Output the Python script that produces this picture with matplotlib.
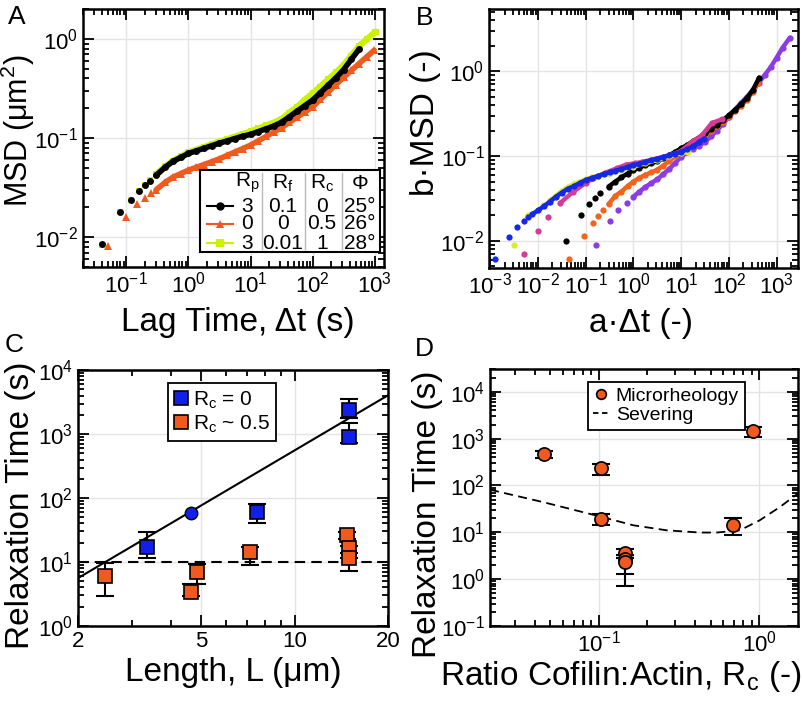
import matplotlib
matplotlib.use("Agg")
import matplotlib.pyplot as plt
from matplotlib.lines import Line2D
from matplotlib.patches import Rectangle
from matplotlib.ticker import LogLocator, NullFormatter, FixedLocator, FixedFormatter

plt.rcParams['font.family'] = ['Liberation Sans', 'DejaVu Sans']
plt.rcParams['mathtext.fontset'] = 'custom'
plt.rcParams['mathtext.rm'] = 'Liberation Sans'
plt.rcParams['mathtext.it'] = 'Liberation Sans:italic'
plt.rcParams['mathtext.bf'] = 'Liberation Sans:bold'

# ---------------- panel A : MSD vs lag time ----------------
a_blk_t = [0.04, 0.08, 0.12, 0.16, 0.20, 0.24, 0.3, 0.42, 0.56, 0.75, 1, 1.33, 1.78, 2.37, 3.16, 4.2,
           5.6, 7.5, 10, 13.3, 17.8, 23.7, 31.6, 42, 56, 75, 100, 133, 178, 237, 316, 420, 560]
a_blk_msd = [0.0086, 0.018, 0.024, 0.029, 0.034, 0.037, 0.042, 0.0507, 0.0581, 0.0638, 0.070, 0.0743,
             0.079, 0.0839, 0.0889, 0.0938, 0.0991, 0.1047, 0.109, 0.1163, 0.1242, 0.1324, 0.1444, 0.164,
             0.1867, 0.213, 0.242, 0.287, 0.342, 0.406, 0.491, 0.624, 0.79]
a_org_t = [0.05, 0.1, 0.15, 0.2, 0.25, 0.3, 0.42, 0.56, 0.75, 1, 1.33, 1.78, 2.37, 3.16, 4.2, 5.6, 7.5,
           10, 13.3, 17.8, 23.7, 31.6, 42, 56, 75, 100, 133, 178, 237, 316, 420, 560, 750, 980]
a_org_msd = [0.0082, 0.016, 0.0216, 0.0251, 0.028, 0.030, 0.0357, 0.0403, 0.0438, 0.0475, 0.0507, 0.0541,
             0.0578, 0.0619, 0.0669, 0.0725, 0.0785, 0.085, 0.0939, 0.104, 0.115, 0.1277, 0.1439, 0.162,
             0.1835, 0.207, 0.246, 0.2925, 0.347, 0.411, 0.482, 0.565, 0.664, 0.77]
a_grn_t = [0.04, 0.08, 0.12, 0.16, 0.20, 0.24, 0.3, 0.42, 0.56, 0.75, 1, 1.33, 1.78, 2.37, 3.16, 4.2,
           5.6, 7.5, 10, 13.3, 17.8, 23.7, 31.6, 42, 56, 75, 100, 133, 178, 237, 316, 420, 560, 750, 1000, 1040]
a_grn_msd = [0.0084, 0.0178, 0.024, 0.029, 0.034, 0.038, 0.043, 0.0518, 0.0592, 0.0653, 0.072, 0.0765,
             0.0814, 0.0866, 0.092, 0.0976, 0.1036, 0.1102, 0.117, 0.1252, 0.1342, 0.1437, 0.156, 0.181,
             0.206, 0.244, 0.283, 0.332, 0.391, 0.46, 0.547, 0.681, 0.85, 0.997, 1.166, 1.19]
a_header = ["R$_\\mathregular{p}$", "R$_\\mathregular{f}$", "R$_\\mathregular{c}$", "Φ"]
a_rows = [["3", "0.1", "0", "25°"], ["0", "0", "0.5", "26°"], ["3", "0.01", "1", "28°"]]

# ---------------- panel B : rescaled MSD ----------------
b_purple_x = [0.165, 0.32, 0.48, 0.72, 1, 1.33, 1.78, 2.37, 3.16, 4.2, 5.6, 7.5, 10, 13.3, 17.8, 23.7,
              31.6, 42, 56, 75, 100, 133, 178, 237, 316, 420, 560, 750, 1000, 1330, 1890]
b_purple_y = [0.0088, 0.0169, 0.0228, 0.028, 0.033, 0.038, 0.043, 0.048, 0.053, 0.061, 0.07, 0.083, 0.098,
              0.11, 0.122, 0.133, 0.147, 0.17, 0.2, 0.24, 0.29, 0.35, 0.42, 0.5, 0.6, 0.73, 0.9, 1.12,
              1.45, 1.9, 2.49]
b_orange_x = [0.0454, 0.094, 0.14, 0.185, 0.235, 0.3, 0.42, 0.56, 0.75, 1, 1.33, 1.78, 2.37, 3.16, 4.2,
              5.6, 7.5, 10, 13.3, 17.8, 23.7, 31.6, 42, 56, 75, 100, 133, 178, 237, 316, 410]
b_orange_y = [0.0061, 0.0115, 0.016, 0.0197, 0.023, 0.027, 0.034, 0.038, 0.044, 0.05, 0.055, 0.06, 0.064,
              0.069, 0.077, 0.087, 0.1, 0.112, 0.125, 0.14, 0.155, 0.175, 0.2, 0.225, 0.255, 0.29, 0.34,
              0.39, 0.46, 0.57, 0.72]
b_black_x = [0.039, 0.078, 0.116, 0.16, 0.2, 0.3, 0.42, 0.56, 0.75, 1, 1.33, 1.78, 2.37, 3.16, 4.2, 5.6,
             7.5, 10, 13.3, 17.8, 23.7, 31.6, 42, 56, 75, 100, 133, 178, 237, 316, 430]
b_black_y = [0.0098, 0.0199, 0.0272, 0.032, 0.037, 0.0435, 0.05, 0.056, 0.062, 0.068, 0.073, 0.078, 0.082,
             0.087, 0.094, 0.102, 0.112, 0.123, 0.135, 0.15, 0.165, 0.185, 0.21, 0.235, 0.265, 0.303,
             0.35, 0.41, 0.48, 0.6, 0.84]
b_magenta_x = [0.005, 0.01, 0.0165, 0.029, 0.055, 0.1, 0.145, 0.25, 0.45, 0.7, 1.07, 1.5, 3, 6, 10, 17.6,
               27, 44, 70]
b_magenta_y = [0.007, 0.0131, 0.0193, 0.0278, 0.038, 0.048, 0.0547, 0.063, 0.0717, 0.079, 0.082, 0.085,
               0.093, 0.103, 0.115, 0.15, 0.175, 0.245, 0.27]
b_lime_x = [0.0032, 0.0063, 0.013, 0.0178, 0.0237, 0.0316, 0.042, 0.056, 0.075, 0.1, 0.133, 0.178, 0.3,
            0.56, 1, 1.78, 3.16, 5.6, 10, 14]
b_lime_y = [0.0088, 0.0202, 0.0265, 0.030, 0.034, 0.039, 0.043, 0.047, 0.05, 0.053, 0.056, 0.058, 0.062,
            0.068, 0.075, 0.082, 0.09, 0.099, 0.108, 0.112]
b_blue_x = [0.00123, 0.00246, 0.0036, 0.005, 0.0063, 0.0075, 0.01, 0.0133, 0.0178, 0.0237, 0.0316, 0.042,
            0.056, 0.075, 0.1, 0.133, 0.178, 0.237, 0.316, 0.42, 0.56, 0.75, 1, 1.33, 1.78, 2.37, 3.16,
            4.2, 5.6, 7.5, 10, 13.3, 17.8, 23.7, 30]
b_blue_y = [0.0061, 0.011, 0.0144, 0.0169, 0.019, 0.0205, 0.0228, 0.0255, 0.029, 0.033, 0.037, 0.041,
            0.044, 0.048, 0.052, 0.055, 0.058, 0.061, 0.064, 0.067, 0.07, 0.074, 0.078, 0.081, 0.085,
            0.089, 0.093, 0.097, 0.102, 0.107, 0.112, 0.12, 0.13, 0.145, 0.16]

# ---------------- panel C : relaxation time vs length ----------------
c_blue_L = [3.33, 7.54, 15.0, 15.0]
c_blue_tau = [17.3, 61, 2430, 908]
c_blue_lo = [11.5, 41, 1800, 716]
c_blue_hi = [29, 80.5, 3600, 1500]
c_circ_L = [4.63]
c_circ_tau = [59]
c_org_L = [2.44, 4.63, 4.86, 7.18, 14.7, 15.0, 15.0]
c_org_tau = [6.0, 3.4, 6.9, 14.5, 26.4, 16.4, 11.7]
c_org_lo = [2.9, 2.9, 4.5, 8.8, 22.6, 11.7, 7.1]
c_org_hi = [9.5, 4.5, 9.3, 17.3, 29.8, 17.8, 14.0]
c_fit_L = [2, 20]
c_fit_tau = [5.56, 4070]
c_ref_tau = 10

# ---------------- panel D : relaxation time vs cofilin ratio ----------------
d_rc = [0.0453, 0.103, 0.103, 0.146, 0.146, 0.146, 0.69, 0.913]
d_tau = [472, 234, 18.9, 3.6, 2.7, 2.3, 14.6, 1480]
d_lo = [388, 171, 14.1, 2.8, 1.3, 0.7, 8.6, 1100]
d_hi = [555, 290, 24, 4.3, 3.3, 2.8, 20, 1740]
d_sev_rc = [0.021, 0.045, 0.101, 0.164, 0.265, 0.428, 0.544, 0.76, 1.01, 1.35, 1.74]
d_sev_tau = [81, 44, 21.9, 14.1, 11, 9.85, 9.85, 11, 18, 34.6, 66.5]

ORANGE = '#f05a1e'
BLUE = '#1020e8'
LIME = '#ccf200'

fig = plt.figure(figsize=(8.02, 7.12), dpi=100)
axA = fig.add_axes([0.1035, 0.625, 0.375, 0.362])
axB = fig.add_axes([0.610, 0.624, 0.385, 0.363])
axC = fig.add_axes([0.097, 0.121, 0.387, 0.359])
axD = fig.add_axes([0.611, 0.121, 0.384, 0.361])


def style(ax):
    ax.set_xscale('log')
    ax.set_yscale('log')
    ax.tick_params(which='both', direction='in', top=True, right=True, labelsize=16, width=1.3)
    ax.tick_params(which='major', length=8)
    ax.tick_params(which='minor', length=4)
    for s in ax.spines.values():
        s.set_linewidth(1.8)
    ax.grid(True, which='major', color='#e4e4e4', lw=1)
    ax.set_axisbelow(True)
    ax.xaxis.set_major_locator(LogLocator(base=10, numticks=15))
    ax.yaxis.set_major_locator(LogLocator(base=10, numticks=15))
    ax.xaxis.set_minor_locator(LogLocator(base=10, subs=range(2, 10), numticks=15))
    ax.yaxis.set_minor_locator(LogLocator(base=10, subs=range(2, 10), numticks=15))
    ax.xaxis.set_minor_formatter(NullFormatter())
    ax.yaxis.set_minor_formatter(NullFormatter())


def dotted_band(ax, xs, ys, start, color, marker, ms, lw):
    # isolated early frames as dots, dense later frames as a solid band
    ax.plot(xs, ys, ls='none', marker=marker, ms=ms, mew=0, color=color)
    ax.plot(xs[start:], ys[start:], ls='-', lw=lw, color=color, solid_capstyle='round')


for ax in (axA, axB, axC, axD):
    style(ax)

# ---- A
dotted_band(axA, a_org_t, a_org_msd, 5, ORANGE, '^', 5.5, 4)
dotted_band(axA, a_grn_t, a_grn_msd, 6, LIME, 's', 5, 4.5)
dotted_band(axA, a_blk_t, a_blk_msd, 6, 'black', 'o', 5, 4)
axA.set_xlim(0.02, 1400)
axA.set_ylim(0.005, 2.0)
axA.set_xlabel('Lag Time, Δt (s)', fontsize=24)
axA.set_ylabel('MSD (μm$^2$)', fontsize=22)
axA.xaxis.set_label_coords(0.515, -0.155)
axA.yaxis.set_label_coords(-0.152, 0.53)

# table-style legend
tr = axA.transAxes
axA.add_patch(Rectangle((0.389, 0.058), 0.598, 0.318, transform=tr, facecolor='white',
                        edgecolor='black', lw=1.5, zorder=5))
for xd in (0.595, 0.738, 0.860):
    axA.plot([xd, xd], [0.068, 0.366], transform=tr, color='#bbbbbb', lw=1, zorder=6)
col_x = [0.545, 0.664, 0.794, 0.920]
row_y = [0.236, 0.167, 0.093]
for cx, h in zip(col_x, a_header):
    axA.text(cx, 0.325, h, transform=tr, ha='center', va='center', fontsize=15, zorder=7)
handles = [('o', 'black'), ('^', ORANGE), ('s', LIME)]
for ry, row, (mk, col) in zip(row_y, a_rows, handles):
    axA.plot([0.412, 0.498], [ry, ry], transform=tr, color=col, lw=1.5, zorder=7)
    axA.plot([0.455], [ry], transform=tr, marker=mk, ms=6, color=col, mew=0, zorder=8)
    for cx, val in zip(col_x, row):
        axA.text(cx, ry, val, transform=tr, ha='center', va='center', fontsize=15, zorder=7)

# ---- B
for xs, ys, col, k in [(b_purple_x, b_purple_y, '#8c3ce6', 4), (b_orange_x, b_orange_y, '#f0641e', 5),
                       (b_black_x, b_black_y, 'black', 5), (b_magenta_x, b_magenta_y, '#d23c96', 3),
                       (b_lime_x, b_lime_y, '#d4f028', 3), (b_blue_x, b_blue_y, '#1428e6', 5)]:
    dotted_band(axB, xs, ys, k, col, 'o', 4.5, 3.2)
axB.set_xlim(0.00095, 2800)
axB.set_ylim(0.0048, 5.4)
axB.set_xlabel('a·Δt (-)', fontsize=24)
axB.set_ylabel('b·MSD (-)', fontsize=24)
axB.xaxis.set_label_coords(0.49, -0.155)
axB.yaxis.set_label_coords(-0.155, 0.56)

# ---- C
ek = dict(ls='none', ecolor='black', elinewidth=1.5, capsize=6.5, capthick=1.5, zorder=3)
axC.plot(c_fit_L, c_fit_tau, color='black', lw=1.5, zorder=2)
axC.axhline(c_ref_tau, color='black', lw=1.5, ls=(0, (5, 3)), zorder=2)
axC.errorbar(c_blue_L, c_blue_tau,
             yerr=[[t - l for t, l in zip(c_blue_tau, c_blue_lo)],
                   [h - t for t, h in zip(c_blue_tau, c_blue_hi)]], **ek)
axC.errorbar(c_org_L, c_org_tau,
             yerr=[[t - l for t, l in zip(c_org_tau, c_org_lo)],
                   [h - t for t, h in zip(c_org_tau, c_org_hi)]], **ek)
axC.plot(c_blue_L, c_blue_tau, ls='none', marker='s', ms=9.5, mfc=BLUE, mec='black', mew=1.2, zorder=4)
axC.plot(c_circ_L, c_circ_tau, ls='none', marker='o', ms=9, mfc=BLUE, mec='black', mew=1.0, zorder=4)
axC.plot(c_org_L, c_org_tau, ls='none', marker='s', ms=9.5, mfc=ORANGE, mec='black', mew=1.2, zorder=4)
axC.set_xlim(2, 20)
axC.set_ylim(1, 1e4)
axC.xaxis.set_major_locator(FixedLocator([2, 5, 10, 20]))
axC.xaxis.set_major_formatter(FixedFormatter(['2', '5', '10', '20']))
axC.set_xlabel('Length, L (μm)', fontsize=24)
axC.set_ylabel('Relaxation Time (s)', fontsize=24)
axC.xaxis.set_label_coords(0.5, -0.12)
axC.yaxis.set_label_coords(-0.135, 0.473)
legC = [Line2D([], [], ls='none', marker='s', ms=9.5, mfc=BLUE, mec='black', mew=1.2),
        Line2D([], [], ls='none', marker='s', ms=9.5, mfc=ORANGE, mec='black', mew=1.2)]
lg = axC.legend(legC, ['R$_\\mathregular{c}$ = 0', 'R$_\\mathregular{c}$ ~ 0.5'], loc='upper left',
                bbox_to_anchor=(0.29, 0.95), fontsize=15, frameon=True, fancybox=False,
                edgecolor='black', framealpha=1, handlelength=0.7, handletextpad=0.2,
                borderpad=0.3, labelspacing=0.15, borderaxespad=0)
lg.get_frame().set_linewidth(1.3)

# ---- D
axD.plot(d_sev_rc, d_sev_tau, color='black', lw=1.3, ls=(0, (5, 3)), zorder=2)
axD.errorbar(d_rc, d_tau,
             yerr=[[t - l for t, l in zip(d_tau, d_lo)], [h - t for t, h in zip(d_tau, d_hi)]], **ek)
axD.plot(d_rc, d_tau, ls='none', marker='o', ms=9.5, mfc=ORANGE, mec='black', mew=1.2, zorder=4)
axD.set_xlim(0.021, 1.75)
axD.set_ylim(0.1, 3.1e4)
axD.set_xlabel('Ratio Cofilin:Actin, R$_\\mathregular{c}$ (-)', fontsize=24)
axD.set_ylabel('Relaxation Time (s)', fontsize=24)
axD.xaxis.set_label_coords(0.426, -0.13)
axD.yaxis.set_label_coords(-0.153, 0.436)
legD = [Line2D([], [], ls='none', marker='o', ms=7, mfc=ORANGE, mec='black', mew=1.2),
        Line2D([], [], color='black', lw=1.3, ls=(0, (3, 2)))]
lg = axD.legend(legD, ['Microrheology', 'Severing'], loc='upper left', bbox_to_anchor=(0.317, 0.95),
                fontsize=14, frameon=True, fancybox=False, edgecolor='black', framealpha=1,
                handlelength=0.8, handletextpad=0.35, borderpad=0.3, labelspacing=0.05, borderaxespad=0)
lg.set_zorder(3)
lg.get_frame().set_linewidth(1.3)

# panel letters
for x, y, s in [(0.021, 0.976, 'A'), (0.53, 0.975, 'B'), (0.0175, 0.515, 'C'), (0.529, 0.51, 'D')]:
    fig.text(x, y, s, fontsize=19, ha='center', va='center')

fig.savefig('out.png', dpi=100)
